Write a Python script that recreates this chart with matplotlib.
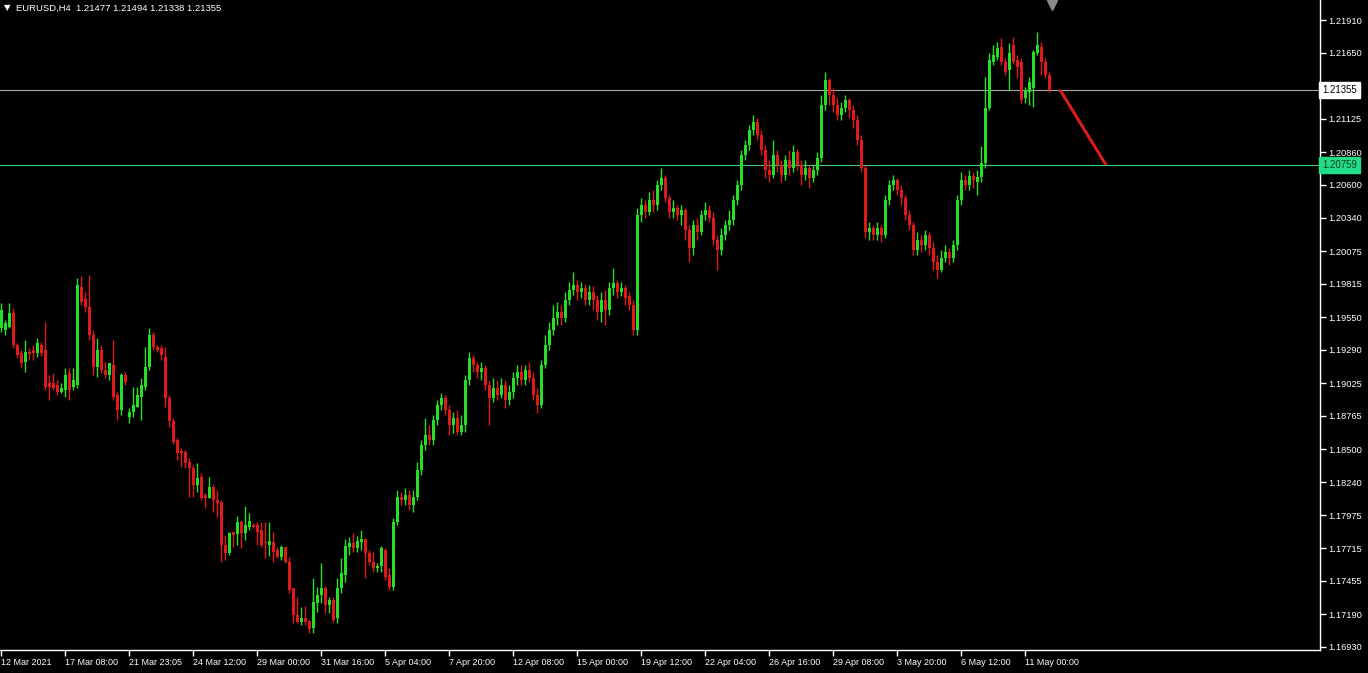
import numpy as np
import matplotlib
matplotlib.use("Agg")
import matplotlib.pyplot as plt
import matplotlib.transforms as mtrans

# ---------------- data ----------------
header_text = "EURUSD,H4  1.21477 1.21494 1.21338 1.21355"

open_ = [1.19465, 1.19449, 1.19473, 1.19584, 1.19329, 1.19266, 1.19195, 1.19274, 1.19290, 1.19266,
         1.19329, 1.19290, 1.19028, 1.19028, 1.19012, 1.18956, 1.18972, 1.19107, 1.18996, 1.19012,
         1.19790, 1.19695, 1.19631, 1.19409, 1.19155, 1.19290, 1.19131, 1.19091, 1.19171, 1.18932,
         1.18814, 1.19091, 1.18758, 1.18798, 1.18837, 1.18916, 1.18996, 1.19155, 1.19409, 1.19313,
         1.19305, 1.19234, 1.18909, 1.18726, 1.18575, 1.18488, 1.18480, 1.18401, 1.18353, 1.18218,
         1.18282, 1.18139, 1.18115, 1.18202, 1.18099, 1.18083, 1.17742, 1.17678, 1.17845, 1.17829,
         1.17924, 1.17837, 1.17885, 1.17900, 1.17900, 1.17861, 1.17765, 1.17742, 1.17765, 1.17702,
         1.17647, 1.17726, 1.17607, 1.17400, 1.17186, 1.17131, 1.17162, 1.17138, 1.17083, 1.17281,
         1.17345, 1.17400, 1.17265, 1.17305, 1.17162, 1.17400, 1.17503, 1.17726, 1.17757, 1.17718,
         1.17765, 1.17789, 1.17678, 1.17607, 1.17559, 1.17575, 1.17702, 1.17503, 1.17408, 1.17924,
         1.18123, 1.18099, 1.18139, 1.18059, 1.18123, 1.18337, 1.18535, 1.18615, 1.18575, 1.18734,
         1.18853, 1.18909, 1.18814, 1.18694, 1.18750, 1.18639, 1.18694, 1.19052, 1.19226, 1.19171,
         1.19115, 1.19147, 1.19012, 1.18909, 1.18988, 1.18932, 1.19012, 1.18893, 1.18956, 1.19067,
         1.19115, 1.19052, 1.19131, 1.19067, 1.18932, 1.18853, 1.19171, 1.19329, 1.19449, 1.19544,
         1.19592, 1.19544, 1.19687, 1.19766, 1.19806, 1.19750, 1.19782, 1.19687, 1.19750, 1.19687,
         1.19592, 1.19687, 1.19608, 1.19782, 1.19822, 1.19750, 1.19782, 1.19719, 1.19647, 1.19449,
         1.20362, 1.20441, 1.20386, 1.20481, 1.20441, 1.20600, 1.20656, 1.20497, 1.20386, 1.20417,
         1.20362, 1.20402, 1.20243, 1.20100, 1.20282, 1.20227, 1.20362, 1.20402, 1.20338, 1.20163,
         1.20084, 1.20203, 1.20282, 1.20322, 1.20481, 1.20600, 1.20838, 1.20918, 1.21037, 1.21100,
         1.20997, 1.20878, 1.20719, 1.20679, 1.20838, 1.20759, 1.20679, 1.20799, 1.20735, 1.20862,
         1.20759, 1.20679, 1.20735, 1.20656, 1.20719, 1.20814, 1.21235, 1.21434, 1.21315, 1.21235,
         1.21156, 1.21211, 1.21275, 1.21196, 1.21116, 1.20957, 1.20735, 1.20227, 1.20259, 1.20203,
         1.20259, 1.20203, 1.20481, 1.20600, 1.20640, 1.20560, 1.20497, 1.20362, 1.20282, 1.20084,
         1.20163, 1.20124, 1.20203, 1.20100, 1.19989, 1.19925, 1.20021, 1.20068, 1.20021, 1.20124,
         1.20481, 1.20640, 1.20600, 1.20672, 1.20624, 1.20664, 1.20775, 1.21211, 1.21576, 1.21616,
         1.21696, 1.21576, 1.21513, 1.21712, 1.21592, 1.21576, 1.21291, 1.21338, 1.21370, 1.21648,
         1.21696, 1.21576, 1.21477]

high = [1.19663, 1.19528, 1.19663, 1.19623, 1.19345, 1.19290, 1.19369, 1.19305, 1.19329, 1.19385,
        1.19353, 1.19512, 1.19091, 1.19107, 1.19052, 1.19028, 1.19147, 1.19147, 1.19147, 1.19862,
        1.19878, 1.19750, 1.19885, 1.19449, 1.19385, 1.19329, 1.19195, 1.19187, 1.19369, 1.18956,
        1.19107, 1.19115, 1.18830, 1.18996, 1.18996, 1.19067, 1.19313, 1.19465, 1.19433, 1.19329,
        1.19329, 1.19313, 1.18932, 1.18750, 1.18591, 1.18512, 1.18496, 1.18433, 1.18377, 1.18393,
        1.18313, 1.18154, 1.18282, 1.18218, 1.18178, 1.18099, 1.17821, 1.17845, 1.17845, 1.17972,
        1.17940, 1.18051, 1.17996, 1.17916, 1.17924, 1.17924, 1.17924, 1.17924, 1.17845, 1.17726,
        1.17742, 1.17726, 1.17647, 1.17400, 1.17329, 1.17250, 1.17258, 1.17146, 1.17480, 1.17408,
        1.17599, 1.17416, 1.17329, 1.17329, 1.17480, 1.17639, 1.17789, 1.17805, 1.17837, 1.17813,
        1.17861, 1.17797, 1.17702, 1.17686, 1.17599, 1.17734, 1.17718, 1.17559, 1.17956, 1.18178,
        1.18162, 1.18194, 1.18178, 1.18178, 1.18401, 1.18575, 1.18750, 1.18694, 1.18774, 1.18893,
        1.18948, 1.18932, 1.18853, 1.18798, 1.18814, 1.18774, 1.19091, 1.19274, 1.19250, 1.19195,
        1.19195, 1.19171, 1.19052, 1.19067, 1.19052, 1.19067, 1.19052, 1.19012, 1.19115, 1.19171,
        1.19171, 1.19171, 1.19195, 1.19115, 1.18988, 1.19211, 1.19409, 1.19512, 1.19647, 1.19671,
        1.19647, 1.19750, 1.19830, 1.19909, 1.19846, 1.19830, 1.19814, 1.19806, 1.19798, 1.19727,
        1.19750, 1.19766, 1.19830, 1.19941, 1.19846, 1.19830, 1.19806, 1.19750, 1.19687, 1.20417,
        1.20497, 1.20481, 1.20544, 1.20560, 1.20640, 1.20735, 1.20679, 1.20521, 1.20481, 1.20441,
        1.20441, 1.20417, 1.20282, 1.20322, 1.20338, 1.20402, 1.20465, 1.20441, 1.20386, 1.20203,
        1.20259, 1.20322, 1.20402, 1.20521, 1.20640, 1.20878, 1.20957, 1.21076, 1.21156, 1.21132,
        1.21037, 1.20918, 1.20799, 1.20957, 1.20878, 1.20799, 1.20838, 1.20878, 1.20918, 1.20886,
        1.20799, 1.20799, 1.20759, 1.20759, 1.20862, 1.21315, 1.21497, 1.21450, 1.21370, 1.21291,
        1.21259, 1.21315, 1.21291, 1.21235, 1.21156, 1.20997, 1.20759, 1.20306, 1.20282, 1.20306,
        1.20282, 1.20521, 1.20640, 1.20679, 1.20656, 1.20600, 1.20521, 1.20402, 1.20306, 1.20227,
        1.20203, 1.20243, 1.20227, 1.20148, 1.20044, 1.20084, 1.20124, 1.20100, 1.20163, 1.20521,
        1.20703, 1.20679, 1.20719, 1.20703, 1.20719, 1.20910, 1.21458, 1.21648, 1.21712, 1.21735,
        1.21767, 1.21608, 1.21727, 1.21775, 1.21632, 1.21608, 1.21378, 1.21458, 1.21672, 1.21815,
        1.21735, 1.21608, 1.21494]

low = [1.19433, 1.19409, 1.19465, 1.19305, 1.19226, 1.19155, 1.19115, 1.19211, 1.19211, 1.19234,
       1.19242, 1.18972, 1.18893, 1.18972, 1.18932, 1.18948, 1.18916, 1.18893, 1.18972, 1.18988,
       1.19647, 1.19592, 1.19369, 1.19091, 1.19075, 1.19107, 1.19067, 1.19052, 1.18893, 1.18734,
       1.18774, 1.19012, 1.18710, 1.18758, 1.18837, 1.18734, 1.18972, 1.19131, 1.19290, 1.19274,
       1.19211, 1.18837, 1.18678, 1.18543, 1.18417, 1.18361, 1.18353, 1.18123, 1.18123, 1.18162,
       1.18099, 1.18035, 1.18115, 1.18004, 1.17964, 1.17607, 1.17623, 1.17662, 1.17726, 1.17742,
       1.17718, 1.17781, 1.17861, 1.17877, 1.17742, 1.17726, 1.17639, 1.17655, 1.17607, 1.17639,
       1.17623, 1.17599, 1.17361, 1.17123, 1.17123, 1.17107, 1.17107, 1.17043, 1.17043, 1.17210,
       1.17281, 1.17202, 1.17202, 1.17131, 1.17123, 1.17361, 1.17448, 1.17662, 1.17686, 1.17686,
       1.17702, 1.17480, 1.17583, 1.17527, 1.17527, 1.17527, 1.17464, 1.17384, 1.17384, 1.17900,
       1.18059, 1.18059, 1.18020, 1.18004, 1.18099, 1.18297, 1.18496, 1.18535, 1.18535, 1.18694,
       1.18814, 1.18774, 1.18615, 1.18631, 1.18615, 1.18615, 1.18639, 1.19012, 1.19115, 1.19067,
       1.19052, 1.18972, 1.18694, 1.18877, 1.18893, 1.18909, 1.18830, 1.18853, 1.18909, 1.19012,
       1.19012, 1.19012, 1.19036, 1.18893, 1.18790, 1.18830, 1.19147, 1.19290, 1.19409, 1.19488,
       1.19488, 1.19512, 1.19647, 1.19727, 1.19687, 1.19703, 1.19647, 1.19647, 1.19608, 1.19528,
       1.19512, 1.19488, 1.19568, 1.19727, 1.19703, 1.19719, 1.19647, 1.19608, 1.19409, 1.19409,
       1.20306, 1.20338, 1.20362, 1.20386, 1.20402, 1.20560, 1.20465, 1.20338, 1.20338, 1.20322,
       1.20282, 1.20163, 1.19989, 1.20044, 1.20163, 1.20203, 1.20322, 1.20306, 1.20124, 1.19925,
       1.20044, 1.20163, 1.20243, 1.20282, 1.20441, 1.20560, 1.20799, 1.20878, 1.20997, 1.20957,
       1.20838, 1.20656, 1.20624, 1.20656, 1.20703, 1.20624, 1.20640, 1.20679, 1.20703, 1.20719,
       1.20600, 1.20640, 1.20576, 1.20624, 1.20679, 1.20783, 1.21196, 1.21235, 1.21180, 1.21116,
       1.21116, 1.21180, 1.21132, 1.21053, 1.20918, 1.20703, 1.20179, 1.20163, 1.20163, 1.20163,
       1.20148, 1.20179, 1.20441, 1.20560, 1.20521, 1.20441, 1.20322, 1.20243, 1.20044, 1.20044,
       1.20068, 1.20084, 1.20044, 1.19925, 1.19862, 1.19909, 1.19989, 1.19965, 1.19989, 1.20084,
       1.20441, 1.20560, 1.20560, 1.20576, 1.20521, 1.20624, 1.20735, 1.21196, 1.21553, 1.21592,
       1.21553, 1.21473, 1.21354, 1.21561, 1.21450, 1.21251, 1.21251, 1.21235, 1.21220, 1.21632,
       1.21473, 1.21450, 1.21338]

close = [1.19608, 1.19504, 1.19584, 1.19329, 1.19250, 1.19187, 1.19274, 1.19258, 1.19266, 1.19345,
         1.19266, 1.18996, 1.18996, 1.18988, 1.18956, 1.18988, 1.19091, 1.18972, 1.19052, 1.19806,
         1.19671, 1.19631, 1.19409, 1.19155, 1.19290, 1.19131, 1.19091, 1.19187, 1.18916, 1.18814,
         1.19091, 1.19036, 1.18798, 1.18853, 1.18932, 1.19012, 1.19155, 1.19409, 1.19313, 1.19290,
         1.19250, 1.18909, 1.18726, 1.18559, 1.18472, 1.18472, 1.18393, 1.18353, 1.18218, 1.18274,
         1.18115, 1.18115, 1.18202, 1.18099, 1.18075, 1.17742, 1.17678, 1.17837, 1.17821, 1.17924,
         1.17837, 1.17900, 1.17932, 1.17885, 1.17845, 1.17742, 1.17757, 1.17773, 1.17686, 1.17647,
         1.17726, 1.17607, 1.17384, 1.17186, 1.17131, 1.17162, 1.17131, 1.17075, 1.17289, 1.17345,
         1.17400, 1.17265, 1.17305, 1.17146, 1.17400, 1.17519, 1.17734, 1.17757, 1.17718, 1.17773,
         1.17789, 1.17678, 1.17607, 1.17559, 1.17575, 1.17718, 1.17487, 1.17408, 1.17924, 1.18123,
         1.18099, 1.18139, 1.18059, 1.18123, 1.18337, 1.18535, 1.18615, 1.18575, 1.18734, 1.18853,
         1.18909, 1.18814, 1.18694, 1.18750, 1.18639, 1.18694, 1.19052, 1.19226, 1.19171, 1.19115,
         1.19147, 1.19012, 1.18909, 1.18988, 1.18932, 1.19012, 1.18893, 1.18956, 1.19067, 1.19115,
         1.19052, 1.19131, 1.19067, 1.18932, 1.18853, 1.19171, 1.19329, 1.19449, 1.19544, 1.19592,
         1.19544, 1.19687, 1.19766, 1.19806, 1.19750, 1.19782, 1.19687, 1.19750, 1.19687, 1.19592,
         1.19687, 1.19608, 1.19782, 1.19822, 1.19750, 1.19782, 1.19703, 1.19647, 1.19449, 1.20362,
         1.20441, 1.20386, 1.20481, 1.20441, 1.20600, 1.20656, 1.20497, 1.20386, 1.20417, 1.20362,
         1.20402, 1.20243, 1.20100, 1.20282, 1.20227, 1.20362, 1.20402, 1.20338, 1.20163, 1.20084,
         1.20203, 1.20282, 1.20322, 1.20481, 1.20600, 1.20838, 1.20918, 1.21037, 1.21100, 1.20997,
         1.20878, 1.20719, 1.20679, 1.20838, 1.20759, 1.20679, 1.20799, 1.20735, 1.20862, 1.20759,
         1.20679, 1.20735, 1.20656, 1.20719, 1.20814, 1.21235, 1.21434, 1.21315, 1.21235, 1.21156,
         1.21211, 1.21275, 1.21196, 1.21116, 1.20957, 1.20735, 1.20227, 1.20259, 1.20203, 1.20259,
         1.20203, 1.20481, 1.20600, 1.20640, 1.20560, 1.20497, 1.20362, 1.20282, 1.20084, 1.20163,
         1.20124, 1.20203, 1.20100, 1.19989, 1.19925, 1.20021, 1.20068, 1.20021, 1.20124, 1.20481,
         1.20640, 1.20600, 1.20672, 1.20640, 1.20664, 1.20775, 1.21211, 1.21592, 1.21632, 1.21688,
         1.21576, 1.21497, 1.21648, 1.21576, 1.21537, 1.21275, 1.21354, 1.21418, 1.21656, 1.21712,
         1.21576, 1.21473, 1.21355]

price_ticks = [1.21910, 1.21650, 1.21385, 1.21125, 1.20860, 1.20600, 1.20340, 1.20075,
               1.19815, 1.19550, 1.19290, 1.19025, 1.18765, 1.18500, 1.18240, 1.17975,
               1.17715, 1.17455, 1.17190, 1.16930]
time_labels = ["12 Mar 2021", "17 Mar 08:00", "21 Mar 23:05", "24 Mar 12:00", "29 Mar 00:00",
               "31 Mar 16:00", "5 Apr 04:00", "7 Apr 20:00", "12 Apr 08:00", "15 Apr 00:00",
               "19 Apr 12:00", "22 Apr 04:00", "26 Apr 16:00", "29 Apr 08:00", "3 May 20:00",
               "6 May 12:00", "11 May 00:00"]
time_label_bars = [0, 16, 32, 48, 64, 80, 96, 112, 128, 144, 160, 176, 192, 208, 224, 240, 256]

bid_price = 1.21355
level_price = 1.20759
trend_bars = [264.75, 276.25]
trend_prices = [1.21355, 1.20759]
shift_marker_bar = 262.75

# ---------------- style ----------------
plt.rcParams["font.family"] = ["Liberation Sans", "DejaVu Sans"]
BULL = "#25e025"
BEAR = "#e01a1a"
FG = "white"
W, H = 1368, 673

fig = plt.figure(figsize=(W / 100, H / 100), dpi=100, facecolor="black")
ax = fig.add_axes([0, 23 / H, 1320 / W, 650 / H])
ax.set_facecolor("black")

o = np.array(open_)
c = np.array(close)
hi = np.array(high)
lo = np.array(low)
x = np.arange(len(c))
cols = np.where(c >= o, BULL, BEAR)

ax.vlines(x, lo, hi, colors=cols, linewidth=1.0, zorder=3)
body_h = np.maximum(np.abs(c - o), 0.00005)
ax.bar(x, body_h, bottom=np.minimum(o, c), width=0.75, color=cols, linewidth=0, zorder=4)

ax.axhline(bid_price, color="#a8a8a8", linewidth=0.8, zorder=2)
ax.axhline(level_price, color="#3ccf7a", linewidth=0.8, zorder=2)
ax.plot(trend_bars, trend_prices, color="#e01a1a", linewidth=2.2, solid_capstyle="butt", zorder=5)

ax.set_xlim(-0.25, 329.75)
ax.set_ylim(1.16906, 1.22069)

ax.plot([shift_marker_bar], [1.22030], marker="v", markersize=7, color="#8a8a8a",
        clip_on=False, zorder=6)

for side in ["top", "left"]:
    ax.spines[side].set_visible(False)
for side in ["right", "bottom"]:
    ax.spines[side].set_color(FG)
    ax.spines[side].set_linewidth(1.0)

ax.yaxis.tick_right()
ax.set_yticks(price_ticks)
ax.set_yticklabels([f"{p:.5f}" for p in price_ticks])
ax.tick_params(axis="y", colors=FG, length=4, width=1, labelsize=6.7, pad=2, direction="out")

ax.set_xticks(time_label_bars)
ax.set_xticklabels(time_labels)
for lbl in ax.get_xticklabels():
    lbl.set_horizontalalignment("left")
ax.tick_params(axis="x", colors=FG, length=4, width=1, labelsize=6.5, pad=1.5, direction="out")

tr = mtrans.blended_transform_factory(ax.transAxes, ax.transData)
ax.text(1.0016, bid_price, f"{bid_price:.5f}", transform=tr, va="center", ha="left",
        fontsize=6.9, color="black", zorder=10,
        bbox=dict(boxstyle="square,pad=0.3", fc="white", ec="white"))
ax.text(1.0016, level_price, f"{level_price:.5f}", transform=tr, va="center", ha="left",
        fontsize=6.9, color="#0a3a20", zorder=10,
        bbox=dict(boxstyle="square,pad=0.3", fc="#22dd88", ec="#22dd88"))

fig.text(4 / W, 1 - 8 / H, "\u25BC", color=FG, fontsize=6, va="center", ha="left",
         family="DejaVu Sans")
fig.text(16 / W, 1 - 8 / H, header_text, color=FG, fontsize=6.8, va="center", ha="left")

fig.savefig("out.png", dpi=100, facecolor="black")
